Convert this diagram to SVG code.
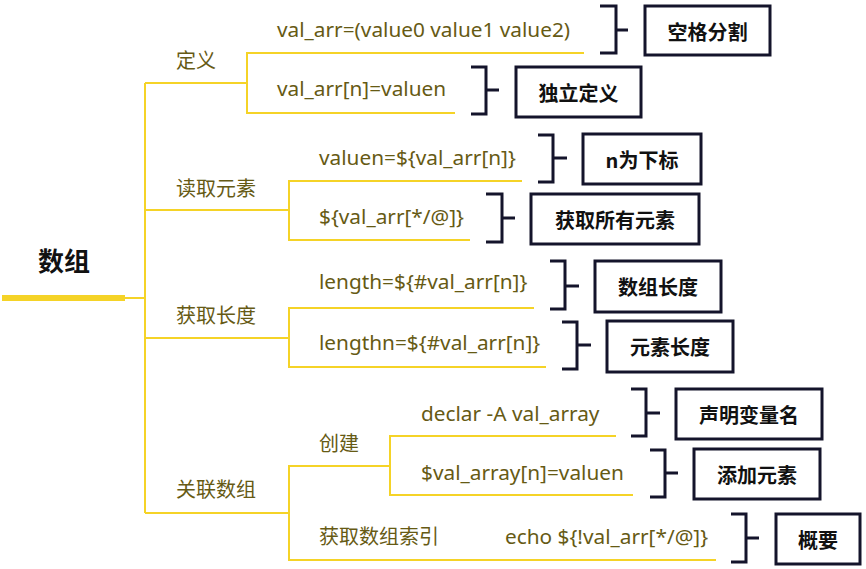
<svg xmlns="http://www.w3.org/2000/svg" width="866" height="569" viewBox="0 0 866 569">
<style>
.ln{fill:none;stroke:#f5d327;stroke-width:2}
.br{fill:none;stroke:#14142b;stroke-width:3}
.bx{fill:#fff;stroke:#14142b;stroke-width:3}
.t{font-family:"Noto Sans","Noto Sans CJK SC",sans-serif;font-size:20.8px;fill:#665a14}
.c{font-family:"Noto Sans CJK SC","Noto Sans",sans-serif;font-size:20px;fill:#665a14}
.b{font-family:"Noto Sans CJK SC","Noto Sans",sans-serif;font-size:20px;font-weight:bold;fill:#111;text-anchor:middle;dominant-baseline:central}
</style>
<rect width="866" height="569" fill="#fff"/>
<g id="connectors">
<path d="M2 298H125" stroke="#f5d327" stroke-width="6"/>
<path class="ln" d="M125 298H145M145 83V513M145 83H247M145 210H289M145 338H289M145 513H289"/>
<path class="ln" d="M584 53H247V113H455"/>
<path class="ln" d="M522 181H289V240H470"/>
<path class="ln" d="M534 308H289V367H546"/>
<path class="ln" d="M390 466H289V560H716"/>
<path class="ln" d="M616 436H390V495H633"/>
<path class="br" d="M600 6H616V53H600M616 30H628"/>
<path class="br" d="M471 67H486V114H471M486 90H499"/>
<path class="br" d="M538 135H553V182H538M553 158H567"/>
<path class="br" d="M486 194H502V242H486M502 218H515"/>
<path class="br" d="M550 261H565V309H550M565 286H579"/>
<path class="br" d="M562 322H577V369H562M577 345H591"/>
<path class="br" d="M631 389H646V436H631M646 413H660"/>
<path class="br" d="M650 450H665V497H650M665 473H678"/>
<path class="br" d="M731 514H746V562H731M746 538H759"/>
</g>
<g id="root"><text x="38" y="271" style="font-family:'Noto Sans CJK SC',sans-serif;font-size:26px;font-weight:bold;fill:#111">数组</text></g>
<g id="n-def"><text class="c" x="176" y="68">定义</text></g>
<g id="n-read"><text class="c" x="176" y="196">读取元素</text></g>
<g id="n-len"><text class="c" x="176" y="323">获取长度</text></g>
<g id="n-assoc"><text class="c" x="176" y="497">关联数组</text></g>
<g id="n-create"><text class="c" x="319" y="451">创建</text></g>
<g id="n-idx"><text class="c" x="319" y="544">获取数组索引</text></g>
<g id="t1"><text class="t" x="277" y="37">val_arr=(value0 value1 value2)</text></g>
<g id="t2"><text class="t" x="277" y="96">val_arr[n]=valuen</text></g>
<g id="t3"><text class="t" x="319" y="165">valuen=${val_arr[n]}</text></g>
<g id="t4"><text class="t" x="319" y="224">${val_arr[*/@]}</text></g>
<g id="t5"><text class="t" x="319" y="289">length=${#val_arr[n]}</text></g>
<g id="t6"><text class="t" x="319" y="350">lengthn=${#val_arr[n]}</text></g>
<g id="t7"><text class="t" x="421" y="421">declar -A val_array</text></g>
<g id="t8"><text class="t" x="421" y="480">$val_array[n]=valuen</text></g>
<g id="t9"><text class="t" x="505" y="544">echo ${!val_arr[*/@]}</text></g>
<g id="b1"><rect class="bx" x="645" y="6" width="125" height="49"/><text class="b" x="707.5" y="31">空格分割</text></g>
<g id="b2"><rect class="bx" x="516" y="67" width="125" height="50"/><text class="b" x="578.5" y="92">独立定义</text></g>
<g id="b3"><rect class="bx" x="583" y="134" width="118" height="50"/><text class="b" x="642" y="159">n为下标</text></g>
<g id="b4"><rect class="bx" x="531" y="194" width="168" height="50"/><text class="b" x="615" y="219">获取所有元素</text></g>
<g id="b5"><rect class="bx" x="595" y="261" width="126" height="51"/><text class="b" x="658" y="286.5">数组长度</text></g>
<g id="b6"><rect class="bx" x="607" y="321" width="126" height="51"/><text class="b" x="670" y="346.5">元素长度</text></g>
<g id="b7"><rect class="bx" x="676" y="389" width="146" height="50"/><text class="b" x="749" y="414">声明变量名</text></g>
<g id="b8"><rect class="bx" x="694" y="449" width="126" height="50"/><text class="b" x="757" y="474">添加元素</text></g>
<g id="b9"><rect class="bx" x="776" y="514" width="84" height="50"/><text class="b" x="818" y="539">概要</text></g>
</svg>
